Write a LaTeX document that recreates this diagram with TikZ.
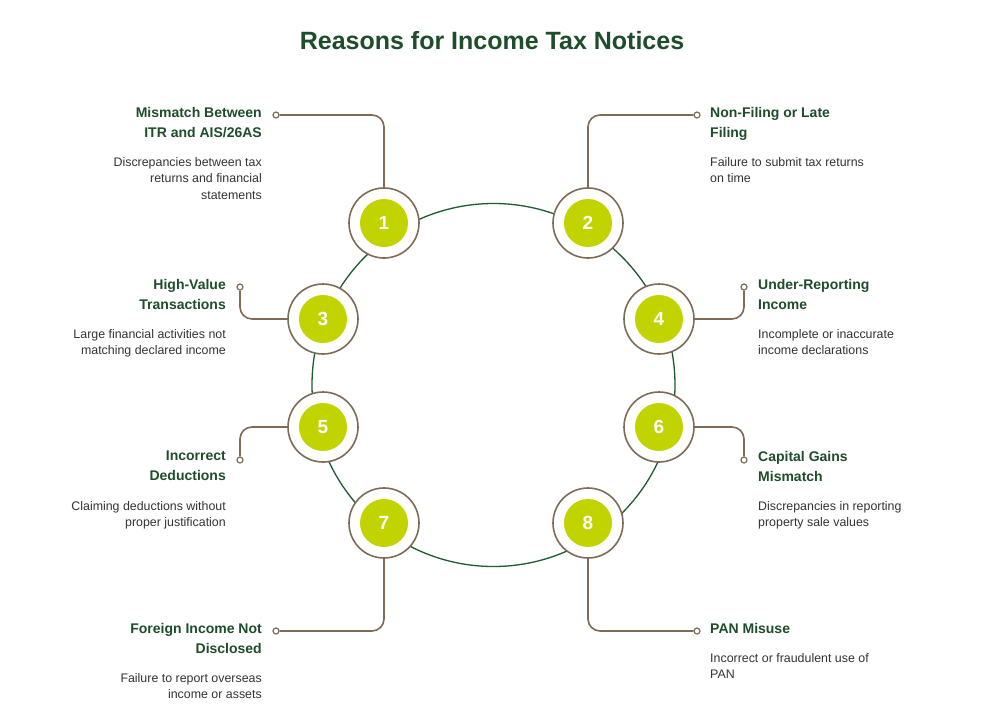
\documentclass[tikz,border=0pt]{standalone}
\usepackage{fontspec}
\setmainfont{Liberation Sans}
\usetikzlibrary{positioning}
\definecolor{txtgreen}{HTML}{1E4D2B}
\definecolor{ringbrown}{HTML}{7D6B55}
\definecolor{lime}{HTML}{C2D400}
\definecolor{loopgreen}{HTML}{1F5A33}
\definecolor{bodygray}{HTML}{333333}
\tikzset{
  badge/.style={circle, draw=ringbrown, line width=1.6pt, fill=white, minimum size=70pt, inner sep=0pt},
  core/.style={circle, fill=lime, minimum size=48pt, inner sep=0pt, text=white, font=\fontsize{19pt}{19pt}\selectfont\bfseries},
  dot/.style={circle, draw=ringbrown, line width=1.2pt, fill=white, minimum size=6pt, inner sep=0pt},
  conn/.style={draw=ringbrown, line width=1.6pt, rounded corners=12pt},
  head/.style={font=\fontsize{14pt}{20pt}\selectfont\bfseries, text=txtgreen, inner sep=0pt},
  body/.style={font=\fontsize{12.4pt}{16.5pt}\selectfont, text=bodygray, inner sep=0pt}
}
\begin{document}
\begin{tikzpicture}[x=1pt, y=-1pt]
\useasboundingbox[fill=white] (0,0) rectangle (985,726);

% title
\node (title) [font=\fontsize{25pt}{25pt}\selectfont\bfseries, text=txtgreen] at (492,41) {Reasons for Income Tax Notices};

% loop
\draw[loopgreen, line width=1.3pt] (493.5,385) circle (181.5);

% badges
\node (b1) [badge] at (384,223) {}; \node [core] at (b1) {1};
\node (b2) [badge] at (588,223) {}; \node [core] at (b2) {2};
\node (b3) [badge] at (323,319) {}; \node [core] at (b3) {3};
\node (b4) [badge] at (659,319) {}; \node [core] at (b4) {4};
\node (b5) [badge] at (323,427) {}; \node [core] at (b5) {5};
\node (b6) [badge] at (659,427) {}; \node [core] at (b6) {6};
\node (b7) [badge] at (384,523) {}; \node [core] at (b7) {7};
\node (b8) [badge] at (588,523) {}; \node [core] at (b8) {8};

% end dots
\node (d1) [dot] at (276,115) {};
\node (d2) [dot] at (697,115) {};
\node (d3) [dot] at (240,287) {};
\node (d4) [dot] at (744,287) {};
\node (d5) [dot] at (240,460) {};
\node (d6) [dot] at (744,460) {};
\node (d7) [dot] at (276,631) {};
\node (d8) [dot] at (697,631) {};

% connectors
\draw[conn] (b1.north) |- (d1);
\draw[conn] (b2.north) |- (d2);
\draw[conn] (b3.west) -| (d3);
\draw[conn] (b4.east) -| (d4);
\draw[conn] (b5.west) -| (d5);
\draw[conn] (b6.east) -| (d6);
\draw[conn] (b7.south) |- (d7);
\draw[conn] (b8.south) |- (d8);

% texts, left side
\node (h1) [head, align=right, anchor=north east] at (262,107) {Mismatch Between\\ITR and AIS/26AS};
\node (t1) [body, align=right, anchor=north east] at (262,157) {Discrepancies between tax\\returns and financial\\statements};
\node (h3) [head, align=right, anchor=north east] at (226,279) {High-Value\\Transactions};
\node (t3) [body, align=right, anchor=north east] at (226,329) {Large financial activities not\\matching declared income};
\node (h5) [head, align=right, anchor=north east] at (226,451) {Incorrect\\Deductions};
\node (t5) [body, align=right, anchor=north east] at (226,501) {Claiming deductions without\\proper justification};
\node (h7) [head, align=right, anchor=north east] at (262,623) {Foreign Income Not\\Disclosed};
\node (t7) [body, align=right, anchor=north east] at (262,673) {Failure to report overseas\\income or assets};

% texts, right side
\node (h2) [head, align=left, anchor=north west] at (710,107) {Non-Filing or Late\\Filing};
\node (t2) [body, align=left, anchor=north west] at (710,157) {Failure to submit tax returns\\on time};
\node (h4) [head, align=left, anchor=north west] at (758,279) {Under-Reporting\\Income};
\node (t4) [body, align=left, anchor=north west] at (758,329) {Incomplete or inaccurate\\income declarations};
\node (h6) [head, align=left, anchor=north west] at (758,451) {Capital Gains\\Mismatch};
\node (t6) [body, align=left, anchor=north west] at (758,501) {Discrepancies in reporting\\property sale values};
\node (h8) [head, align=left, anchor=north west] at (710,623) {PAN Misuse};
\node (t8) [body, align=left, anchor=north west] at (710,653) {Incorrect or fraudulent use of\\PAN};

\end{tikzpicture}
\end{document}
